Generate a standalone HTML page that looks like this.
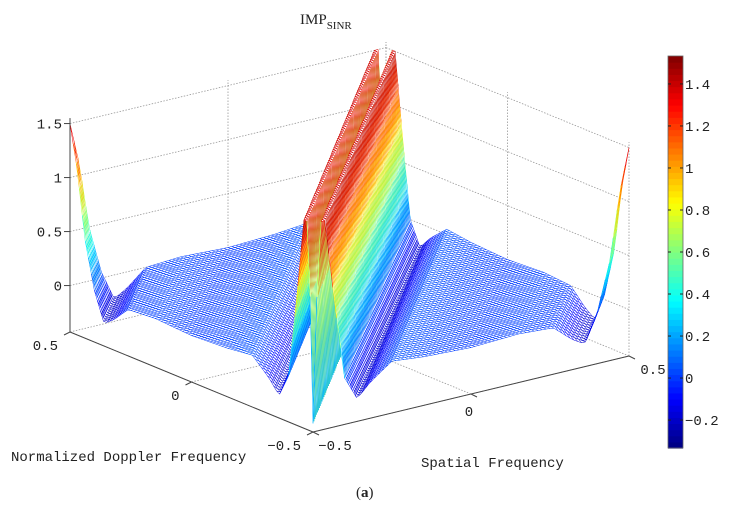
<!DOCTYPE html>
<html><head><meta charset="utf-8">
<style>
body{margin:0;background:#fff;}
svg{display:block;}
text{font-family:"Liberation Mono",monospace;font-size:14px;fill:#222;}
</style></head>
<body>
<svg id="c" width="729" height="507" viewBox="0 0 729 507" xmlns="http://www.w3.org/2000/svg">
<g id="walls"></g>
<g id="mesh"></g>
<g id="axes"></g>
<g id="cbar"></g>
<text x="300" y="24" style="font-family:'Liberation Serif',serif;font-size:15px">IMP<tspan dy="5" style="font-size:11px">SINR</tspan></text>
<text x="11" y="461">Normalized Doppler Frequency</text>
<text x="421" y="467">Spatial Frequency</text>
<text x="356" y="497" style="font-family:'Liberation Serif',serif;font-size:15px">(<tspan font-weight="bold">a</tspan>)</text>
</svg>
<script>
// profile of IMP_SINR across clutter ridge (d = spatial - doppler)
const ridgeOffsets=[-1,-0.97,-0.94,-0.9,-0.86,-0.82,-0.76,-0.65,-0.5,-0.35,-0.25,-0.18,-0.14,-0.1,-0.065,-0.038,-0.02,-0.008,0,0.008,0.02,0.038,0.065,0.1,0.14,0.18,0.25,0.35,0.5,0.65,0.76,0.82,0.86,0.9,0.94,0.97,1];
const ridgeValues=[1.5,1.1,0.5,0.05,-0.22,-0.15,0,0.02,0,0.02,0.05,-0.1,-0.22,0,0.8,1.5,1.5,0.4,-0.35,0.4,1.5,1.5,0.8,0,-0.22,-0.1,0.05,0.02,0,0.02,0,-0.15,-0.22,0.05,0.5,1.1,1.5];
const zTicks=[0,0.5,1,1.5];
const dopplerTicks=[-0.5,0,0.5];
const spatialTicks=[-0.5,0,0.5];
const cbarTicks=[-0.2,0,0.2,0.4,0.6,0.8,1,1.2,1.4];
const NS="http://www.w3.org/2000/svg";
const ZMIN=-0.43,ZTOP=1.55,CMIN=-0.333,CMAX=1.533;
function P(u,v,z){return [313+(u+0.5)*316-(v+0.5)*243, 432-(u+0.5)*76-(v+0.5)*100-(z-ZMIN)*108];}
function prof(d){
  for(let i=0;i<ridgeOffsets.length-1;i++){
    if(d>=ridgeOffsets[i]&&d<=ridgeOffsets[i+1]){const t=(d-ridgeOffsets[i])/(ridgeOffsets[i+1]-ridgeOffsets[i]);return ridgeValues[i]*(1-t)+ridgeValues[i+1]*t;}
  }
  return ridgeValues[ridgeValues.length-1];
}
function jet(v){
  let t=(v-CMIN)/(CMAX-CMIN);t=Math.max(0,Math.min(1,t));
  const f=x=>Math.max(0,Math.min(1,1.5-Math.abs(4*t-x)));
  return `rgb(${Math.round(255*f(3))},${Math.round(255*f(2))},${Math.round(255*f(1))})`;
}
function mk(tag,attrs,parent){const e=document.createElementNS(NS,tag);for(const k in attrs)e.setAttribute(k,attrs[k]);parent.appendChild(e);return e;}
const walls=document.getElementById('walls');
function line(a,b,parent,dash,col){
  const l=mk('line',{x1:a[0],y1:a[1],x2:b[0],y2:b[1],stroke:col||'#999','stroke-width':dash?0.8:1,'stroke-dasharray':dash?'1.5,1.5':'none'},parent);
  return l;
}
for(const z of zTicks){
  let l=line(P(-0.5,0.5,z),P(0.5,0.5,z),walls,true);
  
  
  l=line(P(0.5,0.5,z),P(0.5,-0.5,z),walls,true);
  
  
}
for(const s of [-0.5,0,0.5]){
  let l=line(P(s,0.5,ZMIN),P(s,0.5,ZTOP),walls,true);
  
  
  l=line(P(0.5,s,ZMIN),P(0.5,s,ZTOP),walls,true);
  
  
  l=line(P(s,-0.5,ZMIN),P(s,0.5,ZMIN),walls,true);
  
  
  l=line(P(-0.5,s,ZMIN),P(0.5,s,ZMIN),walls,true);
  
  
}
const mesh=document.getElementById('mesh');
const N=80;
const g=[];
for(let i=0;i<=N;i++){g.push([]);for(let j=0;j<=N;j++){const u=-0.5+i/N,v=-0.5+j/N;const z=prof(u-v);g[i].push({p:P(u,v,z),z:z});}}
const quads=[];
for(let i=0;i<N;i++)for(let j=0;j<N;j++)quads.push([i,j]);
quads.sort((a,b)=>(b[0]+b[1])-(a[0]+a[1]));
let html='';
for(const [i,j] of quads){
  const a=g[i][j],b=g[i+1][j],c=g[i+1][j+1],d=g[i][j+1];
  const zm=(a.z+b.z+c.z+d.z)/4;
  html+=`<polygon points="${a.p[0].toFixed(1)},${a.p[1].toFixed(1)} ${b.p[0].toFixed(1)},${b.p[1].toFixed(1)} ${c.p[0].toFixed(1)},${c.p[1].toFixed(1)} ${d.p[0].toFixed(1)},${d.p[1].toFixed(1)}" fill="#fff" stroke="${jet(zm)}" stroke-width="0.5"/>`;
}
mesh.innerHTML=html;
const axes=document.getElementById('axes');
line(P(-0.5,0.5,ZMIN),P(-0.5,-0.5,ZMIN),axes,false,'#444');
line(P(-0.5,-0.5,ZMIN),P(0.5,-0.5,ZMIN),axes,false,'#444');
line(P(-0.5,0.5,ZMIN),P(-0.5,0.5,ZTOP),axes,false,'#444');
function txt(x,y,s,anchor,parent,name){const t=mk('text',{x:x,y:y,'text-anchor':anchor},parent);t.textContent=s;return t;}
function fmt(v){return v<0?'\u2212'+Math.abs(v):String(v);}
for(const z of zTicks){const p=P(-0.5,0.5,z);line(p,[p[0]-6,p[1]],axes,false,'#444');txt(p[0]-8,p[1]+5,fmt(z),'end',axes,'z-tick-label');}
for(const v of dopplerTicks){const p=P(-0.5,v,ZMIN);line(p,[p[0]-6,p[1]+3],axes,false,'#444');txt(p[0]-12,p[1]+18,fmt(v),'end',axes,'doppler-tick-label');}
for(const s of spatialTicks){const p=P(s,-0.5,ZMIN);line(p,[p[0]+6,p[1]+3],axes,false,'#444');txt(p[0]+ (s==-0.5?22:(s==0?-2:24)),p[1]+ (s==0?22:18),fmt(s),'middle',axes,'spatial-tick-label');}
const cb=document.getElementById('cbar');
const cx=668,cw=15,cy0=56,cy1=448;
const cy=v=>cy1-(v-CMIN)/(CMAX-CMIN)*(cy1-cy0);
for(let k=0;k<64;k++){const v0=CMIN+k*(CMAX-CMIN)/64;const y=cy(v0+(CMAX-CMIN)/64);const r=mk('rect',{x:cx,y:y,width:cw,height:(cy1-cy0)/64+0.6,fill:jet(v0+(CMAX-CMIN)/128)},cb);}
mk('rect',{x:cx,y:cy0,width:cw,height:cy1-cy0,fill:'none',stroke:'#666','stroke-width':0.8},cb);
for(const v of cbarTicks){const y=cy(v);line([cx,y],[cx+3,y],cb,false,'#222');line([cx+cw-3,y],[cx+cw,y],cb,false,'#222');txt(cx+cw+2,y+5,fmt(v),'start',cb,'colorbar-tick-label');}
</script>
</body></html>
